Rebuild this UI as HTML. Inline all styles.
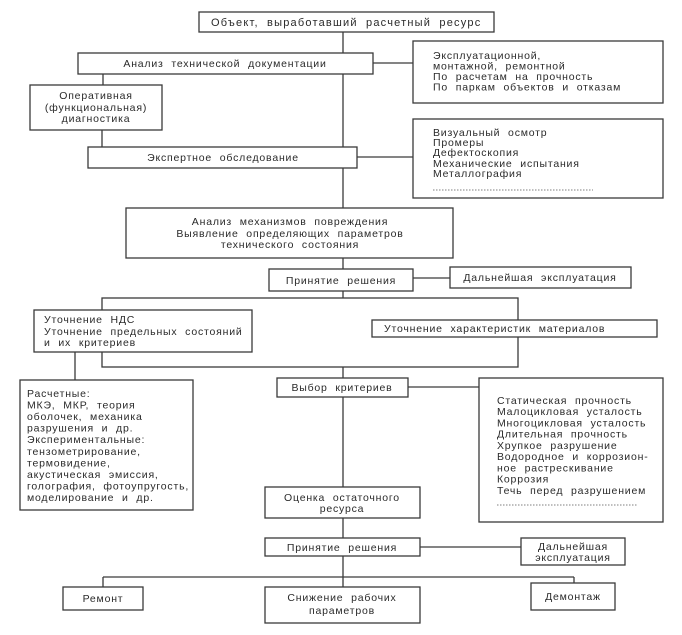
<!DOCTYPE html>
<html><head><meta charset="utf-8"><style>
html,body{margin:0;padding:0;background:#fff;}
svg{display:block;}
text{font-family:"Liberation Sans","DejaVu Sans",sans-serif;font-size:10.5px;fill:#2a2a2a;letter-spacing:0.8px;word-spacing:4px;}
.c{text-anchor:middle;}
</style></head><body>
<svg width="682" height="635" viewBox="0 0 682 635" xmlns="http://www.w3.org/2000/svg">
<g stroke="#3a3a3a" stroke-width="1.3" fill="none">
<!-- trunk -->
<line x1="343" y1="32" x2="343" y2="53"/>
<line x1="343" y1="74" x2="343" y2="147"/>
<line x1="343" y1="168" x2="343" y2="208"/>
<line x1="343" y1="258" x2="343" y2="269"/>
<line x1="343" y1="291" x2="343" y2="298"/>
<line x1="343" y1="367" x2="343" y2="378"/>
<line x1="343" y1="397" x2="343" y2="487"/>
<line x1="343" y1="518" x2="343" y2="538"/>
<line x1="343" y1="556" x2="343" y2="587"/>
<!-- connectors -->
<line x1="373" y1="63" x2="413" y2="63"/>
<line x1="103" y1="74" x2="103" y2="85"/>
<line x1="102" y1="130" x2="102" y2="147"/>
<line x1="357" y1="157" x2="413" y2="157"/>
<line x1="413" y1="278" x2="450" y2="278"/>
<line x1="75" y1="352" x2="75" y2="380"/>
<line x1="408" y1="387" x2="479" y2="387"/>
<line x1="420" y1="547" x2="521" y2="547"/>
<line x1="103" y1="577" x2="574" y2="577"/>
<line x1="103" y1="577" x2="103" y2="587"/>
<line x1="574" y1="577" x2="574" y2="583"/>
<!-- big bracket rect -->
<rect x="102" y="298" width="416" height="69"/>
</g>
<g stroke="#3a3a3a" stroke-width="1.3" fill="#fff">
<rect x="199" y="12" width="295" height="20"/>
<rect x="78" y="53" width="295" height="21"/>
<rect x="413" y="41" width="250" height="62"/>
<rect x="30" y="85" width="132" height="45"/>
<rect x="88" y="147" width="269" height="21"/>
<rect x="413" y="119" width="250" height="79"/>
<rect x="126" y="208" width="327" height="50"/>
<rect x="269" y="269" width="144" height="22"/>
<rect x="450" y="267" width="181" height="21"/>
<rect x="34" y="310" width="218" height="42"/>
<rect x="372" y="320" width="285" height="17"/>
<rect x="20" y="380" width="173" height="130"/>
<rect x="277" y="378" width="131" height="19"/>
<rect x="479" y="378" width="184" height="144"/>
<rect x="265" y="487" width="155" height="31"/>
<rect x="265" y="538" width="155" height="18"/>
<rect x="521" y="538" width="104" height="27"/>
<rect x="63" y="587" width="80" height="23"/>
<rect x="265" y="587" width="155" height="36"/>
<rect x="531" y="583" width="84" height="27"/>
</g>
<g stroke="#555" stroke-width="0.8" stroke-dasharray="1.5,1.5">
<line x1="433" y1="190" x2="593" y2="190"/>
<line x1="497" y1="505" x2="638" y2="505"/>
</g>

<text class="c" x="346" y="26" style="font-size:11px" textLength="270" lengthAdjust="spacing">Объект, выработавший расчетный ресурс</text>
<text class="c" x="225" y="67">Анализ технической документации</text>

<text x="433" y="59">Эксплуатационной,</text>
<text x="433" y="69.5">монтажной, ремонтной</text>
<text x="433" y="80">По расчетам на прочность</text>
<text x="433" y="90.5">По паркам объектов и отказам</text>

<text class="c" x="96" y="99">Оперативная</text>
<text class="c" x="96" y="111">(функциональная)</text>
<text class="c" x="96" y="122">диагностика</text>

<text class="c" x="223" y="161">Экспертное обследование</text>

<text x="433" y="136">Визуальный осмотр</text>
<text x="433" y="146">Промеры</text>
<text x="433" y="156">Дефектоскопия</text>
<text x="433" y="167">Механические испытания</text>
<text x="433" y="177">Металлография</text>

<text class="c" x="290" y="225">Анализ механизмов повреждения</text>
<text class="c" x="290" y="237">Выявление определяющих параметров</text>
<text class="c" x="290" y="248">технического состояния</text>

<text class="c" x="341" y="284">Принятие решения</text>
<text class="c" x="540" y="281">Дальнейшая эксплуатация</text>

<text x="44" y="323">Уточнение НДС</text>
<text x="44" y="335">Уточнение предельных состояний</text>
<text x="44" y="346">и их критериев</text>

<text x="384" y="332">Уточнение характеристик материалов</text>

<text x="27" y="397">Расчетные:</text>
<text x="27" y="408.5">МКЭ, МКР, теория</text>
<text x="27" y="420">оболочек, механика</text>
<text x="27" y="431.7">разрушения и др.</text>
<text x="27" y="443.2">Экспериментальные:</text>
<text x="27" y="454.8">тензометрирование,</text>
<text x="27" y="466.3">термовидение,</text>
<text x="27" y="477.9">акустическая эмиссия,</text>
<text x="27" y="489.4">голография, фотоупругость,</text>
<text x="27" y="501">моделирование и др.</text>

<text class="c" x="342" y="391">Выбор критериев</text>

<text x="497" y="404">Статическая прочность</text>
<text x="497" y="415.2">Малоцикловая усталость</text>
<text x="497" y="426.5">Многоцикловая усталость</text>
<text x="497" y="437.7">Длительная прочность</text>
<text x="497" y="449">Хрупкое разрушение</text>
<text x="497" y="460.2">Водородное и коррозион-</text>
<text x="497" y="471.5">ное растрескивание</text>
<text x="497" y="482.7">Коррозия</text>
<text x="497" y="494">Течь перед разрушением</text>

<text class="c" x="342" y="501">Оценка остаточного</text>
<text class="c" x="342" y="512">ресурса</text>

<text class="c" x="342" y="551">Принятие решения</text>
<text class="c" x="573" y="550">Дальнейшая</text>
<text class="c" x="573" y="561">эксплуатация</text>

<text class="c" x="103" y="602">Ремонт</text>
<text class="c" x="342" y="601">Снижение рабочих</text>
<text class="c" x="342" y="614">параметров</text>
<text class="c" x="573" y="600">Демонтаж</text>
</svg>
</body></html>
